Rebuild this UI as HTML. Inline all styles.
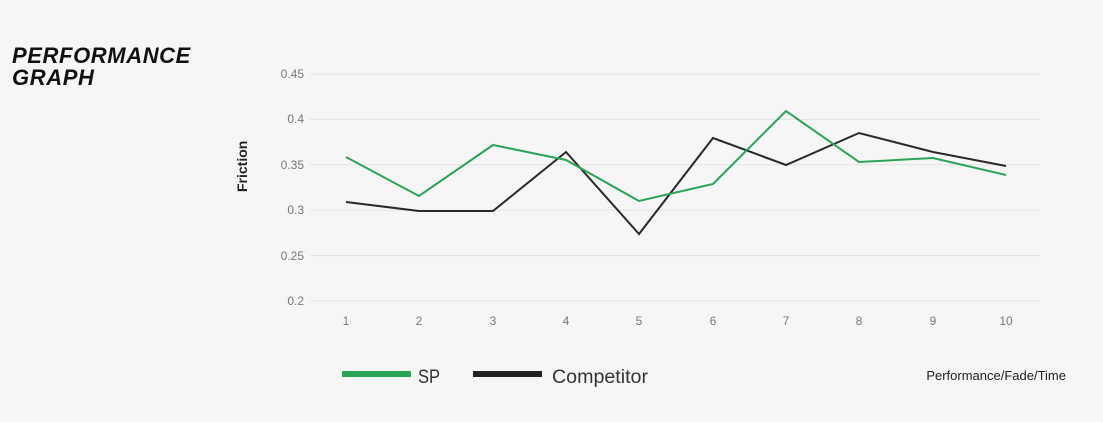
<!DOCTYPE html>
<html><head><style>
body{margin:0;background:#f6f6f6;width:1103px;height:417px;overflow:hidden;font-family:"Liberation Sans",sans-serif}
</style></head><body>
<svg width="1103" height="417" xmlns="http://www.w3.org/2000/svg">
<rect width="1103" height="417" fill="#f6f6f6"/>
<g font-family="Liberation Sans, sans-serif" font-weight="bold" font-style="italic" font-size="22" fill="#111" letter-spacing="0.6">
<text x="12" y="63">PERFORMANCE</text>
<text x="12" y="85">GRAPH</text>
</g>
<g stroke="#e2e2e2" stroke-width="1">
<line x1="310" y1="74" x2="1040" y2="74"/>
<line x1="310" y1="119.4" x2="1040" y2="119.4"/>
<line x1="310" y1="164.8" x2="1040" y2="164.8"/>
<line x1="310" y1="210.2" x2="1040" y2="210.2"/>
<line x1="310" y1="255.6" x2="1040" y2="255.6"/>
<line x1="310" y1="301" x2="1040" y2="301"/>
</g>
<g font-size="12" fill="#777" text-anchor="end">
<text x="304" y="78">0.45</text>
<text x="304" y="123">0.4</text>
<text x="304" y="169">0.35</text>
<text x="304" y="214">0.3</text>
<text x="304" y="260">0.25</text>
<text x="304" y="305">0.2</text>
</g>
<g font-size="12" fill="#777" text-anchor="middle">
<text x="346" y="325">1</text><text x="419" y="325">2</text><text x="493" y="325">3</text><text x="566" y="325">4</text><text x="639" y="325">5</text><text x="713" y="325">6</text><text x="786" y="325">7</text><text x="859" y="325">8</text><text x="933" y="325">9</text><text x="1006" y="325">10</text>
</g>
<text x="0" y="0" transform="translate(247,192) rotate(-90)" font-size="14" font-weight="bold" fill="#222">Friction</text>
<polyline fill="none" stroke="#2a2a2a" stroke-width="2" points="346,202 419,211 493,211 566,152 639,234 713,138 786,165 859,133 933,152 1006,166"/>
<polyline fill="none" stroke="#2aa556" stroke-width="2" points="346,157 419,196 493,145 566,160 639,201 713,184 786,111 859,162 933,158 1006,175"/>
<rect x="342" y="371" width="69" height="6" fill="#2aa556"/>
<text x="418" y="383" font-size="19" fill="#333" textLength="22" lengthAdjust="spacingAndGlyphs">SP</text>
<rect x="473" y="371" width="69" height="6" fill="#222"/>
<text x="552" y="383" font-size="19" fill="#333" textLength="96" lengthAdjust="spacingAndGlyphs">Competitor</text>
<text x="1066" y="380" font-size="13" fill="#222" text-anchor="end">Performance/Fade/Time</text>
</svg>
</body></html>
